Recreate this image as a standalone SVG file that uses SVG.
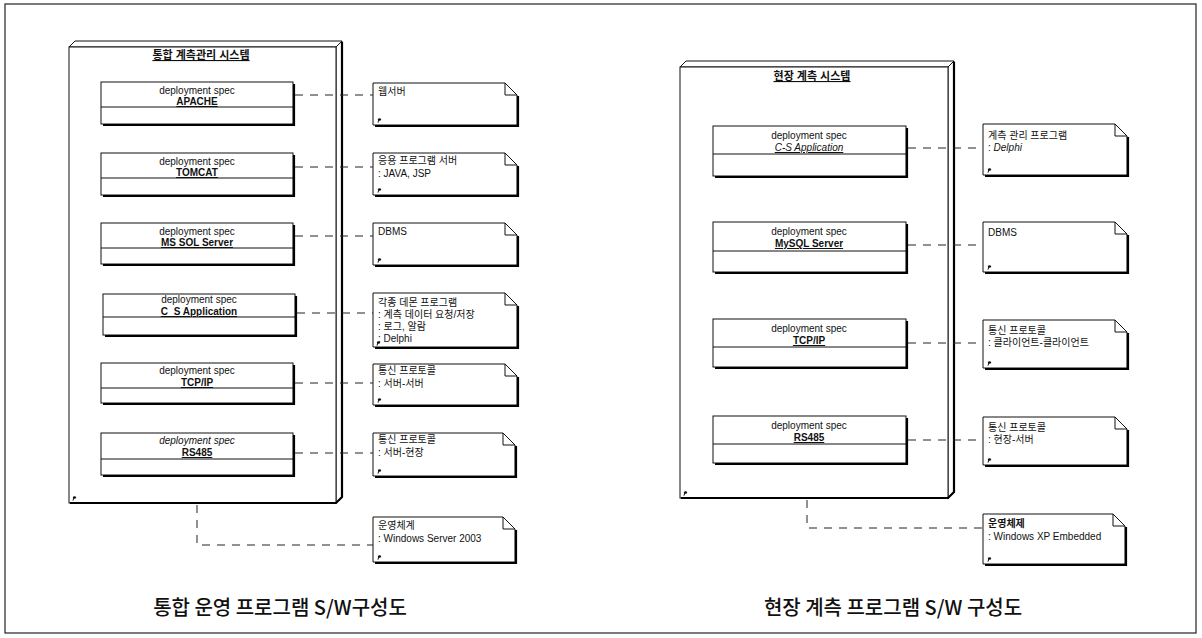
<svg xmlns="http://www.w3.org/2000/svg" xmlns:xlink="http://www.w3.org/1999/xlink" width="1202" height="638" viewBox="0 0 1202 638">
<style>
.frame{fill:none;stroke:#222;stroke-width:1.2}
.face{fill:#fff;stroke:#111;stroke-width:1}
.thick{fill:none;stroke:#000;stroke-width:2.2}
.box{fill:#fff;stroke:#111;stroke-width:1}
.ln{fill:none;stroke:#111;stroke-width:1}
.conn{fill:none;stroke:#222;stroke-width:1;stroke-dasharray:8 7}
.t{font-family:"Liberation Sans","Noto Sans CJK KR",sans-serif;font-size:10px;fill:#111}
.c{text-anchor:middle}
.b{font-weight:bold}
.i{font-style:italic}
.u{text-decoration:underline}
.title{font-family:"Liberation Sans","Noto Sans CJK KR",sans-serif;font-size:11px;font-weight:bold;text-anchor:middle;text-decoration:underline;fill:#111}
.cap{font-family:"Noto Sans CJK KR","Liberation Sans",sans-serif;font-size:20px;font-weight:500;text-anchor:middle;fill:#111}
</style>
<defs>
<g id="mk"><ellipse cx="1.5" cy="-1.5" rx="1.6" ry="1.2" fill="#111"/><path d="M0.8 -1 L0 1.6" stroke="#111" stroke-width="1"/></g>
</defs>
<rect x="0" y="0" width="1202" height="638" fill="#fff"/>
<rect class="frame" x="5" y="4" width="1191" height="629"/>

<!-- LEFT NODE -->
<g id="node-left">
<polygon class="face" points="69,47 75,41 342,41 336,47"/>
<polygon class="face" points="336,47 342,41 342,497 336,503"/>
<rect class="face" x="69" y="47" width="267" height="456"/>
<path class="thick" d="M342 42 V497 L336 503 H70"/>
<text class="title" x="201" y="59">통합 계측관리 시스템</text>
<use xlink:href="#mk" x="73" y="499"/>
</g>

<g id="spec-apache">
<rect class="box" x="101" y="82" width="192" height="42"/><path class="ln" d="M101 107 H293"/><path class="thick" d="M294 84 V125 H103"/>
<text class="t c" x="197" y="94">deployment spec</text><text class="t c b u" x="197" y="105">APACHE</text>
</g>
<g id="spec-tomcat">
<rect class="box" x="101" y="153" width="192" height="42"/><path class="ln" d="M101 178 H293"/><path class="thick" d="M294 155 V196 H103"/>
<text class="t c" x="197" y="165">deployment spec</text><text class="t c b u" x="197" y="176">TOMCAT</text>
</g>
<g id="spec-mssql">
<rect class="box" x="101" y="223" width="192" height="41"/><path class="ln" d="M101 248 H293"/><path class="thick" d="M294 225 V265 H103"/>
<text class="t c" x="197" y="235">deployment spec</text><text class="t c b u" x="197" y="246">MS SOL Server</text>
</g>
<g id="spec-cs">
<rect class="box" x="103" y="294" width="192" height="41"/><path class="ln" d="M103 317 H295"/><path class="thick" d="M296 296 V336 H105"/>
<text class="t c" x="199" y="303">deployment spec</text><text class="t c b u" x="199" y="315">C_S Application</text>
</g>
<g id="spec-tcp-left">
<rect class="box" x="101" y="363" width="192" height="40"/><path class="ln" d="M101 388 H293"/><path class="thick" d="M294 365 V404 H103"/>
<text class="t c" x="197" y="374">deployment spec</text><text class="t c b u" x="197" y="386">TCP/IP</text>
</g>
<g id="spec-rs485-left">
<rect class="box" x="101" y="433" width="192" height="42"/><path class="ln" d="M101 459 H293"/><path class="thick" d="M294 435 V476 H103"/>
<text class="t c i" x="197" y="444">deployment spec</text><text class="t c b u" x="197" y="456">RS485</text>
</g>

<!-- LEFT NOTES -->
<g id="note-web">
<path class="box" d="M373 83 H505 L517 95 V125 H373 Z"/><path class="ln" d="M505 83 V95 H517"/><path class="thick" d="M518 96 V126 H375"/>
<text class="t" x="378" y="95">웹서버</text><use xlink:href="#mk" x="378" y="121"/>
</g>
<g id="note-app">
<path class="box" d="M373 153 H505 L517 165 V195 H373 Z"/><path class="ln" d="M505 153 V165 H517"/><path class="thick" d="M518 166 V196 H375"/>
<text class="t" x="378" y="164">응용 프로그램 서버</text><text class="t" x="378" y="177">: JAVA, JSP</text><use xlink:href="#mk" x="378" y="191"/>
</g>
<g id="note-dbms-left">
<path class="box" d="M373 223 H505 L517 235 V265 H373 Z"/><path class="ln" d="M505 223 V235 H517"/><path class="thick" d="M518 236 V266 H375"/>
<text class="t" x="378" y="235">DBMS</text><use xlink:href="#mk" x="378" y="261"/>
</g>
<g id="note-daemon">
<path class="box" d="M373 293 H505 L517 305 V347 H373 Z"/><path class="ln" d="M505 293 V305 H517"/><path class="thick" d="M518 306 V348 H375"/>
<text class="t" x="378" y="306">각종 데몬 프로그램</text><text class="t" x="378" y="318">: 계측 데이터 요청/저장</text><text class="t" x="378" y="330">: 로그, 알람</text><text class="t" x="378" y="342">: Delphi</text><use xlink:href="#mk" x="377" y="344"/>
</g>
<g id="note-ss">
<path class="box" d="M373 364 H505 L517 376 V405 H373 Z"/><path class="ln" d="M505 364 V376 H517"/><path class="thick" d="M518 377 V406 H375"/>
<text class="t" x="378" y="374">통신 프로토콜</text><text class="t" x="378" y="387">: 서버-서버</text><use xlink:href="#mk" x="378" y="401"/>
</g>
<g id="note-sf">
<path class="box" d="M373 433 H503 L515 445 V476 H373 Z"/><path class="ln" d="M503 433 V445 H515"/><path class="thick" d="M516 446 V477 H375"/>
<text class="t" x="378" y="443">통신 프로토콜</text><text class="t" x="378" y="456">: 서버-현장</text><use xlink:href="#mk" x="378" y="472"/>
</g>
<g id="note-os-left">
<path class="box" d="M373 517 H503 L515 529 V562 H373 Z"/><path class="ln" d="M503 517 V529 H515"/><path class="thick" d="M516 530 V563 H375"/>
<text class="t" x="378" y="529">운영체계</text><text class="t" x="378" y="542">: Windows Server 2003</text><use xlink:href="#mk" x="378" y="558"/>
</g>

<!-- RIGHT NODE -->
<g id="node-right">
<polygon class="face" points="680,67 686,61 954,61 948,67"/>
<polygon class="face" points="948,67 954,61 954,492 948,498"/>
<rect class="face" x="680" y="67" width="268" height="431"/>
<path class="thick" d="M954 62 V492 L948 498 H681"/>
<text class="title" x="812" y="80">현장 계측 시스템</text>
<use xlink:href="#mk" x="684" y="494"/>
</g>

<g id="spec-cs-right">
<rect class="box" x="713" y="126" width="193" height="50"/><path class="ln" d="M713 154 H906"/><path class="thick" d="M907 128 V177 H715"/>
<text class="t c" x="809" y="139">deployment spec</text><text class="t c i u" x="809" y="151">C-S Application</text>
</g>
<g id="spec-mysql">
<rect class="box" x="713" y="222" width="193" height="50"/><path class="ln" d="M713 251 H906"/><path class="thick" d="M907 224 V273 H715"/>
<text class="t c" x="809" y="235">deployment spec</text><text class="t c b u" x="809" y="247">MySQL Server</text>
</g>
<g id="spec-tcp-right">
<rect class="box" x="713" y="319" width="193" height="48"/><path class="ln" d="M713 347 H906"/><path class="thick" d="M907 321 V368 H715"/>
<text class="t c" x="809" y="332">deployment spec</text><text class="t c b u" x="809" y="344">TCP/IP</text>
</g>
<g id="spec-rs485-right">
<rect class="box" x="713" y="416" width="193" height="47"/><path class="ln" d="M713 444 H906"/><path class="thick" d="M907 418 V464 H715"/>
<text class="t c" x="809" y="429">deployment spec</text><text class="t c b u" x="809" y="441">RS485</text>
</g>

<!-- RIGHT NOTES -->
<g id="note-mgmt">
<path class="box" d="M983 124 H1115 L1127 136 V175 H983 Z"/><path class="ln" d="M1115 124 V136 H1127"/><path class="thick" d="M1128 137 V176 H985"/>
<text class="t" x="988" y="139">계측 관리 프로그램</text><text class="t" x="988" y="151">: <tspan class="i">Delphi</tspan></text><use xlink:href="#mk" x="988" y="171"/>
</g>
<g id="note-dbms-right">
<path class="box" d="M983 222 H1115 L1127 234 V272 H983 Z"/><path class="ln" d="M1115 222 V234 H1127"/><path class="thick" d="M1128 235 V273 H985"/>
<text class="t" x="988" y="236">DBMS</text><use xlink:href="#mk" x="988" y="268"/>
</g>
<g id="note-cc">
<path class="box" d="M983 320 H1115 L1127 332 V368 H983 Z"/><path class="ln" d="M1115 320 V332 H1127"/><path class="thick" d="M1128 333 V369 H985"/>
<text class="t" x="988" y="334">통신 프로토콜</text><text class="t" x="988" y="346">: 클라이언트-클라이언트</text><use xlink:href="#mk" x="988" y="364"/>
</g>
<g id="note-fs">
<path class="box" d="M983 417 H1115 L1127 429 V465 H983 Z"/><path class="ln" d="M1115 417 V429 H1127"/><path class="thick" d="M1128 430 V466 H985"/>
<text class="t" x="988" y="431">통신 프로토콜</text><text class="t" x="988" y="443">: 현장-서버</text><use xlink:href="#mk" x="988" y="461"/>
</g>
<g id="note-os-right">
<path class="box" d="M983 514 H1113 L1125 526 V564 H983 Z"/><path class="ln" d="M1113 514 V526 H1125"/><path class="thick" d="M1126 527 V565 H985"/>
<text class="t b" x="988" y="527">운영체제</text><text class="t" x="988" y="540">: Windows XP Embedded</text><use xlink:href="#mk" x="988" y="560"/>
</g>

<!-- CONNECTORS -->
<g id="connectors">
<path class="conn" d="M295 95 H373"/>
<path class="conn" d="M295 167 H373"/>
<path class="conn" d="M295 236 H373"/>
<path class="conn" d="M297 313 H373"/>
<path class="conn" d="M295 383 H373"/>
<path class="conn" d="M295 453 H373"/>
<path class="conn" d="M197 505 V545 H373"/>
<path class="conn" d="M908 148 H983"/>
<path class="conn" d="M908 245 H983"/>
<path class="conn" d="M908 343 H983"/>
<path class="conn" d="M908 440 H983"/>
<path class="conn" d="M807 500 V528 H983"/>
</g>

<text class="cap" x="280" y="615">통합 운영 프로그램 S/W구성도</text>
<text class="cap" x="893" y="615">현장 계측 프로그램 S/W 구성도</text>
</svg>
